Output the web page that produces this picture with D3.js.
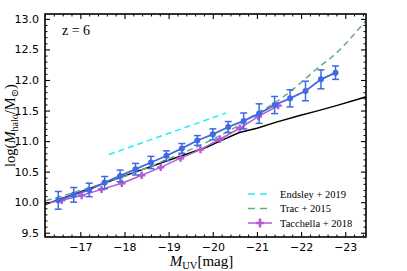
<!DOCTYPE html>
<html>
<head>
<meta charset="utf-8">
<script src="https://cdn.jsdelivr.net/npm/d3@7"></script>
<style>
  body { margin: 0; background: #fff; }
  svg { display: block; }
  .tick text { font-family: "DejaVu Sans", sans-serif; font-size: 11px; fill: #000; }
</style>
</head>
<body>
<div id="chart"></div>
<script>
// blue points with error bars
const blueMuv = [-16.5, -16.85, -17.2, -17.55, -17.9, -18.25, -18.6, -18.95, -19.3, -19.65,
  -20.0, -20.35, -20.7, -21.05, -21.4, -21.75, -22.1, -22.45, -22.78];
const blueLogM = [10.03, 10.12, 10.20, 10.32, 10.43, 10.54, 10.65, 10.76, 10.88, 11.01,
  11.11, 11.23, 11.33, 11.45, 11.59, 11.70, 11.82, 12.01, 12.12];
const blueErr = [0.145, 0.12, 0.11, 0.10, 0.095, 0.095, 0.10, 0.08, 0.08, 0.08,
  0.09, 0.09, 0.13, 0.16, 0.14, 0.14, 0.16, 0.155, 0.11];

// black model line
const blackMuv = [-16.0, -16.2, -18.35, -19.1, -19.86, -20.16, -20.6, -21.0, -21.44, -21.97, -22.35, -22.8, -23.5];
const blackLogM = [9.91, 9.96, 10.52, 10.71, 10.90, 11.0, 11.14, 11.21, 11.31, 11.42, 11.49, 11.58, 11.73];

// Trac + 2015
const tracMuv = [-16.0, -17.0, -18.0, -19.0, -20.0, -20.5, -21.03, -21.37, -21.59, -21.97, -22.35, -22.72, -23.5];
const tracLogM = [9.98, 10.19, 10.42, 10.71, 11.03, 11.22, 11.47, 11.61, 11.72, 11.94, 12.18, 12.39, 13.0];

// Endsley + 2019
const endsMuv = [-17.65, -20.3];
const endsLogM = [10.78, 11.46];

// Tacchella + 2018
const tacMuv = [-16.13, -16.58, -17.03, -17.48, -17.94, -18.39, -18.82, -19.27, -19.72, -20.16, -20.61, -21.03, -21.48];
const tacLogM = [9.97, 10.03, 10.11, 10.21, 10.31, 10.44, 10.57, 10.72, 10.86, 11.03, 11.21, 11.40, 11.58];
const tacErr = [0.03, 0.03, 0.03, 0.03, 0.03, 0.03, 0.03, 0.035, 0.035, 0.04, 0.04, 0.045, 0.045];

const xMajor = [-17, -18, -19, -20, -21, -22, -23];
const yMajor = [9.5, 10.0, 10.5, 11.0, 11.5, 12.0, 12.5, 13.0];

const legendItems = ['Endsley + 2019', 'Trac + 2015', 'Tacchella + 2018'];

const W = 407, H = 271;
const margin = {top: 14, right: 41, bottom: 34, left: 45};
const width = W - margin.left - margin.right;
const height = H - margin.top - margin.bottom;

const svg = d3.select('#chart').append('svg')
  .attr('width', W)
  .attr('height', H);

const g = svg.append('g')
  .attr('transform', `translate(${margin.left},${margin.top})`);

const x = d3.scaleLinear().domain([-16.2, -23.47]).range([0, width]);
const y = d3.scaleLinear().domain([9.43, 13.08]).range([height, 0]);

const xMinor = d3.range(-16.2, -23.5, -0.2).map(v => +v.toFixed(1)).filter(v => !xMajor.includes(v));
const yMinor = d3.range(9.5, 13.09, 0.1).map(v => +v.toFixed(1)).filter(v => !yMajor.includes(v));

g.append('clipPath').attr('id', 'clip')
  .append('rect').attr('width', width).attr('height', height);

const plot = g.append('g').attr('clip-path', 'url(#clip)');

const line = d3.line().x(d => x(d[0])).y(d => y(d[1]));

// black line
plot.append('path')
  .datum(d3.zip(blackMuv, blackLogM))
  .attr('d', line)
  .attr('fill', 'none')
  .attr('stroke', '#000')
  .attr('stroke-width', 1.5);

// Trac
plot.append('path')
  .datum(d3.zip(tracMuv, tracLogM))
  .attr('d', d3.line().curve(d3.curveMonotoneX).x(d => x(d[0])).y(d => y(d[1])))
  .attr('fill', 'none')
  .attr('stroke', '#6aaa84')
  .attr('stroke-width', 1.5)
  .attr('stroke-dasharray', '6,4');

// Endsley
plot.append('path')
  .datum(d3.zip(endsMuv, endsLogM))
  .attr('d', line)
  .attr('fill', 'none')
  .attr('stroke', '#22eef2')
  .attr('stroke-width', 1.5)
  .attr('stroke-dasharray', '6,4');

// Tacchella
const purple = '#b45ad8';
plot.append('path')
  .datum(d3.zip(tacMuv, tacLogM))
  .attr('d', line)
  .attr('fill', 'none')
  .attr('stroke', purple)
  .attr('stroke-width', 1.5);

const tac = d3.zip(tacMuv, tacLogM, tacErr);
plot.selectAll('.tacerr').data(tac).enter().append('line')
  .attr('x1', d => x(d[0])).attr('x2', d => x(d[0]))
  .attr('y1', d => y(d[1] - d[2])).attr('y2', d => y(d[1] + d[2]))
  .attr('stroke', purple).attr('stroke-width', 1.2);

plot.selectAll('.tacpt').data(tac).enter().append('path')
  .attr('d', d3.symbol(d3.symbolCross, 30))
  .attr('transform', d => `translate(${x(d[0])},${y(d[1])})`)
  .attr('fill', purple);

// blue
const blue = '#4169e1';
const bl = d3.zip(blueMuv, blueLogM, blueErr);
plot.append('path')
  .datum(bl)
  .attr('d', line)
  .attr('fill', 'none')
  .attr('stroke', blue)
  .attr('stroke-width', 1.8);

const cap = 3.5;
const errG = plot.selectAll('.berr').data(bl).enter().append('g')
  .attr('stroke', blue).attr('stroke-width', 1.5);
errG.append('line')
  .attr('x1', d => x(d[0])).attr('x2', d => x(d[0]))
  .attr('y1', d => y(d[1] - d[2])).attr('y2', d => y(d[1] + d[2]));
errG.append('line')
  .attr('x1', d => x(d[0]) - cap).attr('x2', d => x(d[0]) + cap)
  .attr('y1', d => y(d[1] - d[2])).attr('y2', d => y(d[1] - d[2]));
errG.append('line')
  .attr('x1', d => x(d[0]) - cap).attr('x2', d => x(d[0]) + cap)
  .attr('y1', d => y(d[1] + d[2])).attr('y2', d => y(d[1] + d[2]));

plot.selectAll('.bpt').data(bl).enter().append('circle')
  .attr('cx', d => x(d[0])).attr('cy', d => y(d[1]))
  .attr('r', 3)
  .attr('fill', blue);

// axes, ticks inward on all sides
function drawAxis(axisFn, scale, major, minor, transform, labels, fmt) {
  const a = g.append('g').attr('transform', transform)
    .call(axisFn(scale).tickValues(major).tickSize(-5).tickPadding(labels ? 6 : 0)
      .tickFormat(labels ? fmt : ''));
  a.select('.domain').remove();
  a.selectAll('line').attr('stroke-width', 1.1);
  const m = g.append('g').attr('transform', transform)
    .call(axisFn(scale).tickValues(minor).tickSize(-2.5).tickFormat(''));
  m.select('.domain').remove();
  m.selectAll('line').attr('stroke-width', 1);
  return a;
}
drawAxis(d3.axisBottom, x, xMajor, xMinor, `translate(0,${height})`, true, d3.format('d'));
drawAxis(d3.axisTop, x, xMajor, xMinor, 'translate(0,0)', false);
drawAxis(d3.axisLeft, y, yMajor, yMinor, 'translate(0,0)', true, d3.format('.1f'));
drawAxis(d3.axisRight, y, yMajor, yMinor, `translate(${width},0)`, false);

g.append('rect')
  .attr('width', width).attr('height', height)
  .attr('fill', 'none').attr('stroke', '#000').attr('stroke-width', 1.6);

const serif = '"Liberation Serif", "DejaVu Serif", serif';

// z = 6
g.append('text')
  .attr('x', 17).attr('y', 21)
  .attr('font-family', serif).attr('font-size', 14)
  .attr('xml:space', 'preserve')
  .text('z = 6');

// x label
const xl = svg.append('text')
  .attr('x', margin.left + width / 2 - 4).attr('y', 266)
  .attr('text-anchor', 'middle')
  .attr('font-family', serif).attr('font-size', 15);
xl.append('tspan').attr('font-style', 'italic').text('M');
xl.append('tspan').attr('font-size', 10.5).attr('dy', 3).text('UV');
xl.append('tspan').attr('dy', -3).text('[mag]');

// y label
const yl = svg.append('text')
  .attr('transform', `translate(15,${margin.top + height / 2}) rotate(-90)`)
  .attr('text-anchor', 'middle')
  .attr('font-family', serif).attr('font-size', 14.5);
yl.append('tspan').text('log(');
yl.append('tspan').attr('font-style', 'italic').text('M');
yl.append('tspan').attr('font-size', 10).attr('dy', 3).text('halo');
yl.append('tspan').attr('dy', -3).text('/M');
yl.append('tspan').attr('font-size', 10).attr('dy', 3).text('⊙');
yl.append('tspan').attr('dy', -3).text(')');

// legend
const lg = g.append('g').attr('transform', `translate(${248 - margin.left},${194 - margin.top})`);
const legColors = ['#22eef2', '#6aaa84', purple];
legendItems.forEach((name, i) => {
  const row = lg.append('g').attr('transform', `translate(0,${i * 14.5})`);
  const ln = row.append('line')
    .attr('x1', 0).attr('x2', 24).attr('y1', 0).attr('y2', 0)
    .attr('stroke', legColors[i]).attr('stroke-width', 1.5);
  if (i < 2) {
    ln.attr('stroke-dasharray', '7,5');
  } else {
    row.append('line').attr('x1', 12).attr('x2', 12).attr('y1', -5).attr('y2', 5)
      .attr('stroke', purple).attr('stroke-width', 1.2);
    row.append('path').attr('d', d3.symbol(d3.symbolCross, 34))
      .attr('transform', 'translate(12,0)').attr('fill', purple);
  }
  row.append('text')
    .attr('x', 32).attr('y', 3.5)
    .attr('font-family', serif).attr('font-size', 10.5)
    .text(name);
});
</script>
</body>
</html>
